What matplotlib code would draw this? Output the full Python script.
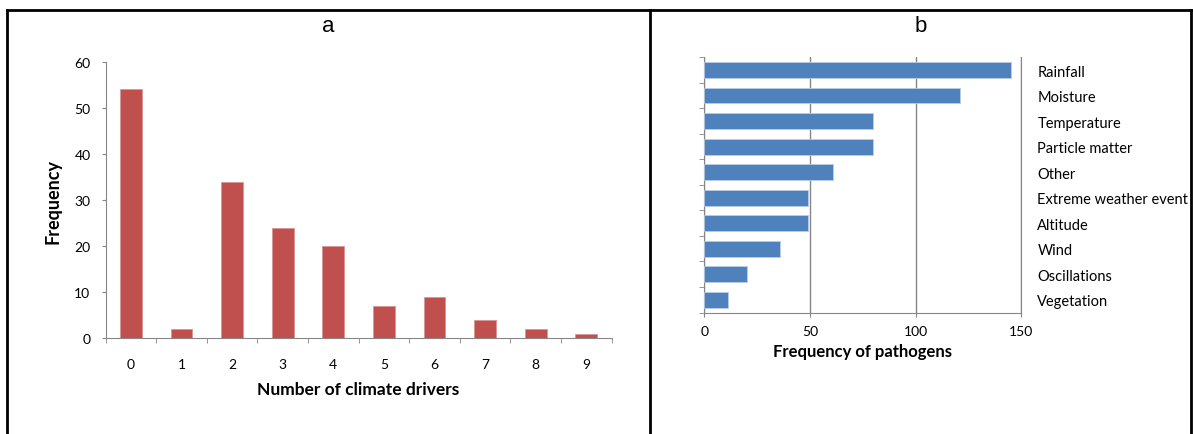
import numpy as np
import matplotlib.pyplot as plt
from matplotlib.lines import Line2D

# panel a: number of climate drivers per pathogen
drivers = list(range(10))
driver_freq = [54, 2, 34, 24, 20, 7, 9, 4, 2, 1]

# panel b: pathogens per climate driver
driver_names = ['Rainfall', 'Moisture', 'Temperature', 'Particle matter', 'Other',
                'Extreme weather event', 'Altitude', 'Wind', 'Oscillations', 'Vegetation']
pathogen_freq = [145, 121, 80, 80, 61, 49, 49, 36, 20, 11]

plt.rcParams['font.family'] = ['Lato', 'DejaVu Sans']
grey = '#868686'

fig = plt.figure(figsize=(11.93, 4.35), dpi=100)

# panel frames (pixel helpers)
W, H = 1193, 435
def fx(px):
    return px / W
def fy(py):
    return 1 - py / H
for xs, ys in [([7, 1191], [11, 11]), ([7, 7], [11, 435]), ([650, 650], [11, 435]),
               ([1191, 1191], [11, 435])]:
    fig.add_artist(Line2D([fx(x) for x in xs], [fy(y) for y in ys], color='black', lw=2))

fig.text(fx(328), fy(27), 'a', ha='center', va='center', fontsize=16, family='Liberation Sans')
fig.text(fx(921), fy(27), 'b', ha='center', va='center', fontsize=16, family='Liberation Sans')

# ---- panel a ----
ax1 = fig.add_axes([fx(105.7), fy(339.3), fx(611.5 - 105.7), (339.3 - 62.7) / H])
ax1.bar(drivers, driver_freq, width=0.43, color='#C0504D', edgecolor='#D99694', linewidth=0.6)
ax1.set_xlim(-0.5, 9.5)
ax1.set_ylim(0, 60)
ax1.set_yticks(range(0, 61, 10))
ax1.set_xticks(drivers)
ax1.set_xticks(np.arange(-0.5, 10, 1), minor=True)
ax1.tick_params(axis='x', which='major', length=0, pad=14, labelsize=10)
ax1.tick_params(axis='x', which='minor', length=3.5, color=grey, direction='out')
ax1.tick_params(axis='y', length=3, color=grey, pad=8, labelsize=10)
for s in ['top', 'right']:
    ax1.spines[s].set_visible(False)
for s in ['left', 'bottom']:
    ax1.spines[s].set_color(grey)
ax1.set_xlabel('Number of climate drivers', fontsize=12.5, fontweight='bold', labelpad=8)
ax1.set_ylabel('Frequency', fontsize=13, fontweight='bold', labelpad=9)

# ---- panel b ----
ax2 = fig.add_axes([fx(704.3), fy(313.5), fx(1021.3 - 704.3), (313.5 - 58.3) / H])
pos = np.arange(len(driver_names))
ax2.barh(pos, pathogen_freq, height=0.62, color='#4F81BD', edgecolor='#B9CDE5', linewidth=0.6,
         zorder=3)
ax2.set_xlim(0, 150)
ax2.set_ylim(len(driver_names) - 0.5, -0.5)
ax2.set_xticks([0, 50, 100, 150])
ax2.grid(axis='x', color=grey, lw=1, zorder=0)
ax2.set_yticks(pos)
ax2.set_yticklabels(driver_names)
ax2.set_yticks(np.arange(-0.5, len(driver_names), 1), minor=True)
ax2.tick_params(axis='y', which='major', length=0, left=False, right=True,
                labelleft=False, labelright=True, pad=11.5, labelsize=10.5)
ax2.tick_params(axis='y', which='minor', length=3.5, color=grey, direction='out')
ax2.tick_params(axis='x', length=3, color=grey, pad=6, labelsize=10)
ax2.spines['top'].set_visible(False)
for s in ['left', 'bottom', 'right']:
    ax2.spines[s].set_color(grey)
ax2.set_xlabel('Frequency of pathogens', fontsize=12, fontweight='bold', labelpad=4)

fig.savefig('out.png', dpi=100)
